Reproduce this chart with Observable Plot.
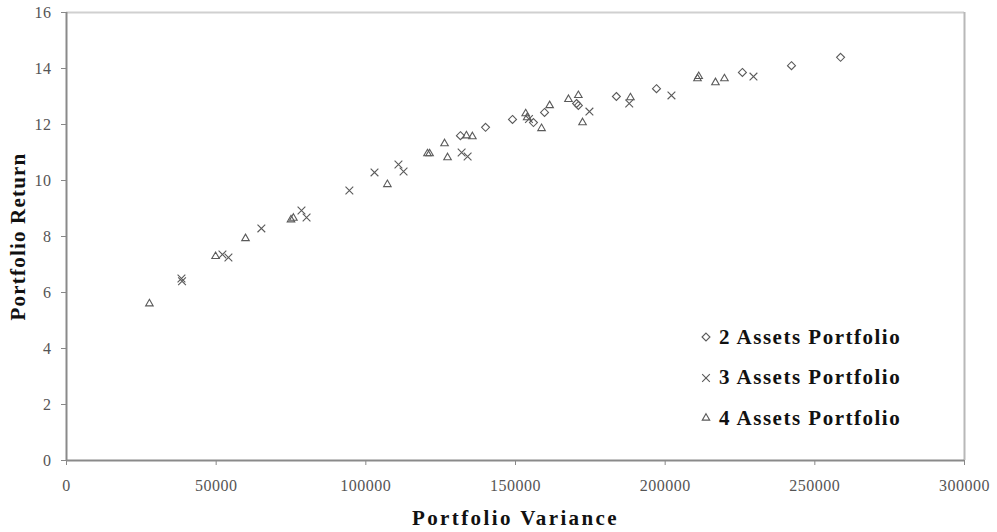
<!DOCTYPE html>
<html>
<head>
<meta charset="utf-8">
<script src="https://cdn.jsdelivr.net/npm/d3@7"></script>
<script src="https://cdn.jsdelivr.net/npm/@observablehq/plot@0.6"></script>
<style>
  html, body { margin: 0; padding: 0; background: #fff; }
  #wrap { position: relative; width: 997px; height: 532px; }
  #wrap svg { font-family: "Liberation Serif", "DejaVu Serif", serif; }
  [aria-label="x-axis tick label"] text, [aria-label="y-axis tick label"] text { letter-spacing: 0.5px; }
  [aria-label="x-axis label"] text {
    font-size: 21px; font-weight: bold; fill: #111; letter-spacing: 2.4px;
  }
  [aria-label="y-axis label"] text {
    font-size: 21px; font-weight: bold; fill: #111; letter-spacing: 1.2px;
  }
  #legend { position: absolute; left: 700px; top: 317px; font-family: "Liberation Serif", serif;
    font-weight: bold; font-size: 21px; letter-spacing: 1.5px; color: #111; }
  #legend div { display: flex; align-items: center; height: 40.5px; }
  #legend svg { margin-right: 7px; }
</style>
</head>
<body>
<div id="wrap"></div>
<script>
// 2 Assets Portfolio
const variance2 = [131600, 140000, 149000, 156000, 159700, 170400, 171000, 183700, 197100, 225800, 242200, 258600];
const return2    = [11.6,   11.9,   12.18,  12.07,  12.43,  12.75,  12.68,  13.0,   13.28,  13.86,  14.1,   14.4];
// 3 Assets Portfolio
const variance3 = [38400, 38600, 52100, 54100, 65100, 78500, 80200, 94500, 102900, 110900, 112600, 132000, 134000, 154500, 174700, 188000, 202100, 229500];
const return3    = [6.5,   6.4,   7.36,  7.25,  8.29,  8.93,  8.68,  9.64,  10.29,  10.57,  10.32,  11.0,   10.86,  12.2,   12.46,  12.75,  13.04,  13.71];
// 4 Assets Portfolio
const variance4 = [27700, 49800, 59800, 75000, 75800, 107200, 120600, 121300, 126300, 127300, 133600, 135600, 153400, 153900, 158700, 161400, 167700, 171000, 172400, 188400, 210800, 211200, 216800, 219800];
const return4    = [5.6,   7.29,  7.93,  8.6,   8.66,  9.86,   10.96,  10.96,  11.32,  10.82,  11.6,   11.57,  12.39,  12.25,  11.86,  12.68,  12.9,   13.04,  12.07,  12.96,  13.64,  13.72,  13.5,   13.64];

const seriesNames = ["2 Assets Portfolio", "3 Assets Portfolio", "4 Assets Portfolio"];
const seriesSymbols = ["diamond2", "times", "triangle2"];
const xTicks = [0, 50000, 100000, 150000, 200000, 250000, 300000];
const yTicks = [0, 2, 4, 6, 8, 10, 12, 14, 16];

const rows = [];
[[variance2, return2], [variance3, return3], [variance4, return4]].forEach(([vs, rs], i) => {
  vs.forEach((v, j) => rows.push({variance: v, ret: rs[j], series: seriesNames[i]}));
});

const chart = Plot.plot({
  width: 997,
  height: 532,
  marginLeft: 66,
  marginRight: 33,
  marginTop: 12,
  marginBottom: 72,
  style: {fontFamily: "'Liberation Serif', serif", background: "#fff"},
  x: {domain: [0, 300000]},
  y: {domain: [0, 16]},
  symbol: {domain: seriesNames, range: seriesSymbols},
  marks: [
    Plot.ruleY([16], {stroke: "#d0d0d0", strokeWidth: 2}),
    Plot.ruleX([300000], {stroke: "#b8b8b8", strokeWidth: 2}),
    Plot.axisX({ticks: xTicks, tickFormat: d3.format("d"), tickSize: 5, tickPadding: 14,
      fontSize: 16, fill: "#555", stroke: "#888",
      label: "Portfolio Variance", labelAnchor: "center", labelArrow: "none", labelOffset: 64}),
    Plot.axisY({ticks: yTicks, tickSize: 5, tickPadding: 10,
      fontSize: 16, fill: "#555", stroke: "#888",
      label: "Portfolio Return", labelAnchor: "center", labelArrow: "none", labelOffset: 56}),
    Plot.ruleY([0], {stroke: "#8a8a8a", strokeWidth: 2}),
    Plot.ruleX([0], {stroke: "#8a8a8a", strokeWidth: 2}),
    Plot.dot(rows, {x: "variance", y: "ret", symbol: "series", r: 3.6,
      stroke: "#5a5a5a", strokeWidth: 1.1, fill: "none"})
  ]
});
document.getElementById("wrap").appendChild(chart);

// legend
const legend = document.createElement("div");
legend.id = "legend";
seriesNames.forEach((name, i) => {
  const row = document.createElement("div");
  const sym = d3.create("svg").attr("width", 12).attr("height", 12);
  const symType = {diamond2: d3.symbolDiamond2, times: d3.symbolTimes, triangle2: d3.symbolTriangle2}[seriesSymbols[i]];
  sym.append("path").attr("transform", "translate(6,6)")
    .attr("d", d3.symbol(symType, 40)())
    .attr("fill", "none").attr("stroke", "#5a5a5a").attr("stroke-width", 1.1);
  row.appendChild(sym.node());
  row.appendChild(document.createTextNode(name));
  legend.appendChild(row);
});
document.getElementById("wrap").appendChild(legend);
</script>
</body>
</html>
